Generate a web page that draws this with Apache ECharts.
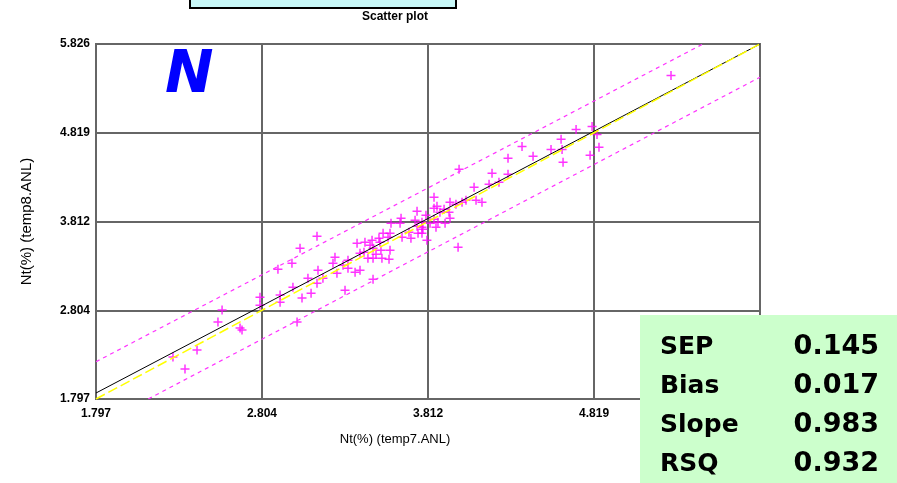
<!DOCTYPE html>
<html>
<head>
<meta charset="utf-8">
<script src="https://cdn.jsdelivr.net/npm/echarts@6/dist/echarts.min.js"></script>
<style>
  html, body { margin: 0; padding: 0; background: #fff; }
  #chart { width: 897px; height: 483px; }
</style>
</head>
<body>
<div id="chart"></div>
<script>
// tick positions shared by both axes
const ticks = [1.797, 2.804, 3.812, 4.819, 5.826];

// Nt(%) temp7.ANL (x) vs temp8.ANL (y)
const temp7 = [
  5.286, 4.710, 4.807, 4.837, 4.619, 4.382, 4.558, 4.625, 4.849, 4.449,
  4.795, 4.631, 4.297, 4.000, 4.200, 4.297, 3.848, 4.091, 4.139, 4.103,
  3.945, 4.018, 3.981, 4.042, 4.242, 4.182, 3.848, 3.909, 3.884, 3.945,
  3.799, 3.848, 3.939, 3.824, 3.860, 3.915, 3.775, 3.805, 3.994, 3.775,
  3.775, 3.745, 3.866, 3.648, 3.587, 3.642, 3.733, 3.745, 3.781, 3.872,
  3.539, 3.581, 3.569, 3.514, 3.520, 3.654, 3.708, 3.696, 3.751, 3.472,
  3.429, 3.381, 3.460, 3.478, 3.399, 3.423, 3.526, 3.581, 3.447, 3.478,
  3.532, 3.575, 3.496, 3.326, 3.369, 3.296, 3.399, 3.478, 3.138, 3.035,
  2.986, 2.901, 3.247, 3.326, 3.235, 3.144, 3.259, 3.083, 3.174, 3.138,
  2.992, 3.308, 3.102, 3.047, 2.914, 2.914, 2.792, 2.792, 3.017, 2.562,
  2.537, 2.671, 2.683, 2.410, 2.264, 2.337
];
const temp8 = [
  5.469, 4.857, 4.891, 4.800, 4.744, 4.664, 4.630, 4.630, 4.653, 4.551,
  4.562, 4.483, 4.528, 4.404, 4.358, 4.347, 4.086, 4.200, 4.030, 4.052,
  4.030, 4.030, 4.007, 4.052, 4.256, 4.234, 3.962, 3.950, 3.916, 3.848,
  3.882, 3.837, 3.916, 3.792, 3.746, 3.792, 3.746, 3.599, 3.520, 3.803,
  3.678, 3.928, 3.984, 3.848, 3.792, 3.792, 3.826, 3.758, 3.724, 3.803,
  3.678, 3.678, 3.633, 3.622, 3.576, 3.633, 3.622, 3.690, 3.678, 3.599,
  3.576, 3.565, 3.542, 3.508, 3.452, 3.463, 3.486, 3.486, 3.395, 3.395,
  3.395, 3.384, 3.440, 3.282, 3.236, 3.316, 3.259, 3.157, 3.644, 3.508,
  3.338, 3.270, 3.406, 3.372, 3.338, 3.259, 3.225, 3.168, 3.168, 3.112,
  3.066, 3.032, 2.998, 2.942, 2.976, 2.896, 2.953, 2.862, 2.670, 2.806,
  2.670, 2.602, 2.579, 2.352, 2.273, 2.137
];

// line end points
const fitLine = [[1.797, 1.865], [5.826, 5.826]];
const idealLine = [[1.797, 1.797], [5.826, 5.826]];
const upperBand = [[1.797, 2.220], [5.480, 5.826]];
const lowerBand = [[2.114, 1.797], [5.826, 5.449]];

const statNames = ['SEP', 'Bias', 'Slope', 'RSQ'];
const statValues = ['0.145', '0.017', '0.983', '0.932'];

const narrow = '"Liberation Sans Narrow", "Liberation Sans", Arial, sans-serif';
const plus = 'path://M3.75 0H5.25V9H3.75ZM0 3.75H9V5.25H0Z';

const chart = echarts.init(document.getElementById('chart'), null, { renderer: 'canvas' });

function valueAxis(name, isY) {
  return {
    type: 'value',
    min: ticks[0],
    max: ticks[ticks.length - 1],
    name: name,
    nameLocation: 'middle',
    nameGap: isY ? 62 : 34,
    nameTextStyle: isY
      ? { fontFamily: narrow, fontSize: 15, color: '#000' }
      : { fontFamily: narrow, fontSize: 13, color: '#000', padding: [0, 66, 0, 0] },
    axisLine: { show: false },
    axisTick: { show: false, customValues: ticks },
    axisLabel: {
      customValues: ticks,
      margin: isY ? 6 : 9,
      fontFamily: narrow,
      fontSize: 12,
      fontWeight: 'bold',
      color: '#000',
      formatter: v => v.toFixed(3)
    },
    splitLine: { show: true, lineStyle: { color: '#666', width: 2 } }
  };
}

const stats = [];
statNames.forEach((n, i) => {
  stats.push({
    type: 'text', z: 101, left: 660, top: 335 + i * 39,
    style: { text: n, font: 'bold 25px "DejaVu Sans", sans-serif', fill: '#000' }
  });
  stats.push({
    type: 'text', z: 101, right: 18, top: 333 + i * 39,
    style: { text: statValues[i], font: 'bold 27px "DejaVu Sans", sans-serif', fill: '#000' }
  });
});

chart.setOption({
  animation: false,
  grid: {
    left: 96, top: 44, width: 664, height: 355,
    show: true, borderColor: '#666', borderWidth: 2, backgroundColor: '#fff'
  },
  xAxis: valueAxis('Nt(%) (temp7.ANL)', false),
  yAxis: valueAxis('Nt(%) (temp8.ANL)', true),
  series: [
    {
      type: 'line', data: upperBand, symbol: 'none',
      lineStyle: { color: '#ff33ff', width: 1.2, type: [4, 4] }
    },
    {
      type: 'line', data: lowerBand, symbol: 'none',
      lineStyle: { color: '#ff33ff', width: 1.2, type: [4, 4] }
    },
    {
      type: 'line', data: fitLine, symbol: 'none',
      lineStyle: { color: '#000', width: 1 }
    },
    {
      type: 'line', data: idealLine, symbol: 'none',
      lineStyle: { color: '#ffff00', width: 1.5, type: [10, 4] }
    },
    {
      type: 'scatter',
      data: temp7.map((x, i) => [x, temp8[i]]),
      symbol: plus,
      symbolSize: 9,
      itemStyle: { color: '#ff00ff' }
    }
  ],
  graphic: [
    {
      type: 'rect', z: 100, shape: { x: 190, y: -4, width: 266, height: 12 },
      style: { fill: '#c8f8f8', stroke: '#000', lineWidth: 2 }
    },
    {
      type: 'text', z: 100, left: 362, top: 11,
      style: { text: 'Scatter plot', font: 'bold 12px ' + narrow, fill: '#000' }
    },
    {
      type: 'text', z: 100, left: 165, top: 48,
      style: { text: 'N', font: 'italic bold 58px "DejaVu Sans", sans-serif', fill: '#0000ff' }
    },
    {
      type: 'rect', z: 100, shape: { x: 640, y: 315, width: 257, height: 168 },
      style: { fill: '#ccffcc' }
    }
  ].concat(stats)
});
</script>
</body>
</html>
